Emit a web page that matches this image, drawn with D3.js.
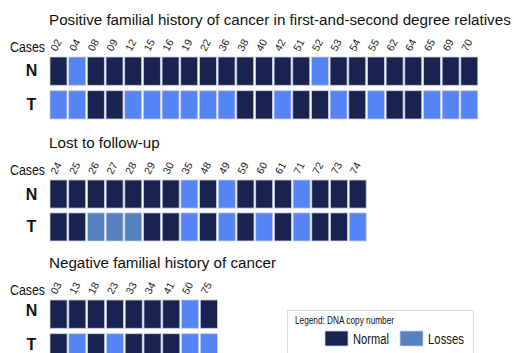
<!DOCTYPE html>
<html>
<head>
<meta charset="utf-8">
<script src="https://cdn.jsdelivr.net/npm/d3@7/dist/d3.min.js"></script>
<style>
  html, body { margin: 0; padding: 0; background: #fff; }
  svg { display: block; font-family: "Liberation Sans", Arial, sans-serif; }
</style>
</head>
<body>
<svg id="chart" width="514" height="353"></svg>
<script>
// DNA copy number status per case: "normal", "loss", "loss2" (second loss shade)
const titles = [
  "Positive familial history of cancer in first-and-second degree relatives",
  "Lost to follow-up",
  "Negative familial history of cancer"
];

const casesPositive = ["02","04","08","09","12","15","16","19","22","36","38","40","42","51","52","53","54","55","62","64","65","69","70"];
const normalPositive = ["normal","loss","normal","normal","normal","normal","normal","normal","normal","normal","normal","normal","normal","normal","loss","normal","normal","normal","normal","normal","normal","normal","normal"];
const tumorPositive = ["loss","loss","normal","normal","loss","loss","loss","loss","loss","loss","normal","normal","loss","normal","normal","loss","normal","loss","normal","normal","loss","loss","loss"];

const casesLost = ["24","25","26","27","28","29","30","35","48","49","59","60","61","71","72","73","74"];
const normalLost = ["normal","normal","normal","normal","normal","normal","normal","loss","normal","loss","normal","normal","normal","loss","normal","normal","normal"];
const tumorLost = ["normal","normal","loss2","loss2","loss2","normal","normal","loss","normal","loss","normal","loss","normal","loss","normal","normal","loss"];

const casesNegative = ["03","13","18","23","33","34","41","50","75"];
const normalNegative = ["normal","normal","normal","normal","normal","normal","normal","loss","normal"];
const tumorNegative = ["normal","loss","normal","loss","normal","normal","normal","loss","loss"];

const rowNames = ["N", "T"];
const legendLabels = ["Normal", "Losses"];
const legendTitle = "Legend: DNA copy number";

const color = d3.scaleOrdinal()
  .domain(["normal", "loss", "loss2"])
  .range(["#1a2250", "#5584f4", "#5581bf"]);

// Vertical placement of each panel (top edge of the N row), row spacing and row-label offset
const panels = [
  { title: titles[0], cases: casesPositive, rows: [normalPositive, tumorPositive], top: 57, rowStep: 31, labelDy: 5 },
  { title: titles[1], cases: casesLost, rows: [normalLost, tumorLost], top: 180, rowStep: 30.5, labelDy: 5.5 },
  { title: titles[2], cases: casesNegative, rows: [normalNegative, tumorNegative], top: 300, rowStep: 31, labelDy: 2 }
];

const svg = d3.select("#chart");
const left = 50, pitch = 18.6, cellH = 26;

panels.forEach(p => {
  const g = svg.append("g");
  const x = d3.scaleBand()
    .domain(p.cases)
    .range([left, left + pitch * p.cases.length])
    .paddingInner(0.09)
    .paddingOuter(0);
  const y = d3.scaleBand()
    .domain(rowNames)
    .range([p.top, p.top + p.rowStep * 2])
    .paddingInner((p.rowStep - cellH) / p.rowStep)
    .paddingOuter(0);

  g.append("text")
    .attr("x", 49)
    .attr("y", p.top - 32)
    .attr("font-size", 15.2)
    .attr("fill", "#111")
    .text(p.title);

  g.append("text")
    .attr("x", 10)
    .attr("y", p.top - 5)
    .attr("font-size", 14)
    .attr("textLength", 35)
    .attr("lengthAdjust", "spacingAndGlyphs")
    .attr("fill", "#111")
    .text("Cases");

  // case id labels, slanted above each column
  g.selectAll("text.case")
    .data(p.cases)
    .join("text")
    .attr("class", "case")
    .attr("font-size", 10.5)
    .attr("fill", "#222")
    .attr("transform", d => `translate(${x(d) + x.bandwidth() / 2 - 2},${p.top - 5}) rotate(-62)`)
    .text(d => d);

  // row labels
  g.selectAll("text.row")
    .data(rowNames)
    .join("text")
    .attr("class", "row")
    .attr("x", 31.5)
    .attr("y", d => y(d) + y.bandwidth() / 2 + p.labelDy)
    .attr("text-anchor", "middle")
    .attr("font-size", 16)
    .attr("font-weight", "bold")
    .attr("fill", "#111")
    .text(d => d);

  rowNames.forEach((r, ri) => {
    g.selectAll(null)
      .data(p.cases.map((c, i) => ({ c, v: p.rows[ri][i] })))
      .join("rect")
      .attr("x", d => x(d.c))
      .attr("y", y(r))
      .attr("width", x.bandwidth())
      .attr("height", y.bandwidth())
      .attr("fill", d => color(d.v))
      .attr("stroke", "#c9cfe2")
      .attr("stroke-width", 0.8);
  });
});

// legend
const lg = svg.append("g");
lg.append("rect")
  .attr("x", 287.5).attr("y", 310.5)
  .attr("width", 186).attr("height", 60)
  .attr("fill", "#fff")
  .attr("stroke", "#dcdcdc");
lg.append("text")
  .attr("x", 295).attr("y", 324)
  .attr("font-size", 10)
  .attr("textLength", 99)
  .attr("lengthAdjust", "spacingAndGlyphs")
  .attr("fill", "#111")
  .text(legendTitle);

const legendX = d3.scalePoint().domain(legendLabels).range([325, 400]);
const legendColor = d3.scaleOrdinal().domain(legendLabels).range([color("normal"), color("loss2")]);
lg.selectAll("rect.sw")
  .data(legendLabels)
  .join("rect")
  .attr("class", "sw")
  .attr("x", d => legendX(d))
  .attr("y", 331)
  .attr("width", 23)
  .attr("height", 15)
  .attr("fill", d => legendColor(d))
  .attr("stroke", "#c9cfe2")
  .attr("stroke-width", 0.8);
lg.selectAll("text.lab")
  .data(legendLabels)
  .join("text")
  .attr("class", "lab")
  .attr("x", d => legendX(d) + 28)
  .attr("y", 344)
  .attr("font-size", 14)
  .attr("textLength", 36)
  .attr("lengthAdjust", "spacingAndGlyphs")
  .attr("fill", "#111")
  .text(d => d);
</script>
</body>
</html>
